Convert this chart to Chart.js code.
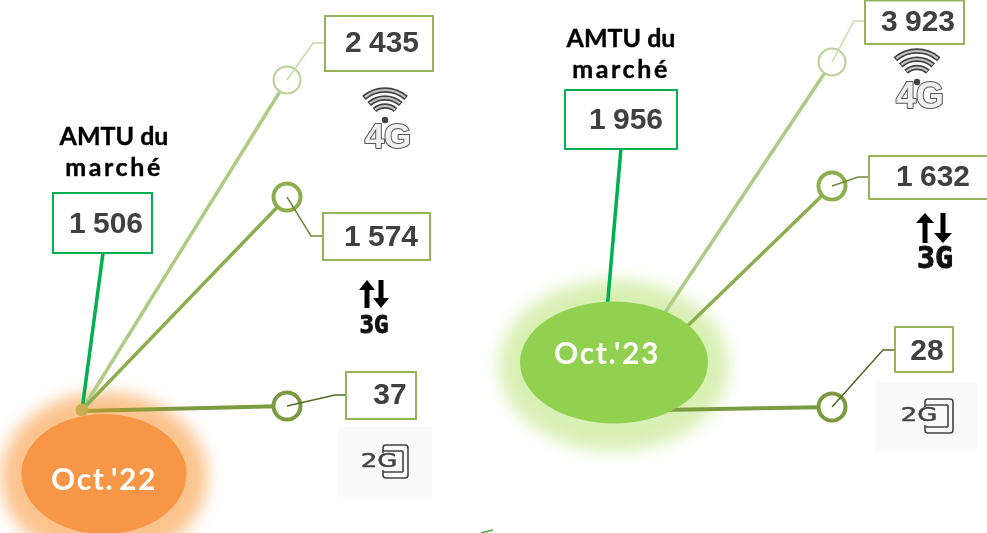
<!DOCTYPE html>
<html lang="fr"><head><meta charset="utf-8">
<style>html,body{margin:0;padding:0;background:#fff}canvas{display:block}</style>
<script src="https://cdn.jsdelivr.net/npm/chart.js@4"></script></head>
<body><canvas id="c" width="987" height="533"></canvas>
<script>
const periods = ["Oct.'22", "Oct.'23"];
const values4G = [2435, 3923];
const values3G = [1574, 1632];
const values2G = [37, 28];
const marketAMTU = [1506, 1956];
const marketLabel = ["AMTU du", "marché"];

const fmt = v => String(v).replace(/\B(?=(\d{3})+$)/g, ' ');
const C = {four:'#AFCB86', fourLeader:'#C8DCA8', three:'#8CAE4E', threeLeader:'#6F8C38', two:'#7C9A40', twoLeader:'#4F6B22', box:'#95B35C', green:'#00B050', text:'#404040'};

// Diagram layout (no value axis exists in the source: anchors are in the hidden 987x533 plane)
const panels = [
 {ell:[104,474,82.5,60], fill:'#F79646', glow:'#FBC48E', labelAt:[104,480], gold:true,
  spokeAMTU:[[103,253],[82,410]], spoke4:[[82,410],[287,80]], spoke3:[[82,410],[287,197]], spoke2:[[82,411],[287,406]],
  lead4:[[287,80],[313,43],[325,43]], lead3:[[287,197],[311,236],[323,236]], lead2:[[287,406],[335,395],[346,395]],
  box4:[325,16,433,71,382,44], box3:[323,213,430,260,381,238], box2:[346,372,416,419,390,396], boxA:[53,193,152,253,106,225],
  title:[114,137,168], wifi:[385,122,1,3,16], arrows:[367,381,280,308,374,327,24,8], two:[338,427,432,497,379,462,383,445,408,478]},
 {ell:[614,362.5,94,61], fill:'#92D050', glow:'#D9F0B4', labelAt:[607,354], gold:false,
  spokeAMTU:[[621,148],[607,310]], spoke4:[[640,350],[832,62]], spoke3:[[640,372],[832,186]], spoke2:[[660,410],[832,407]],
  lead4:[[832,62],[854,21],[865,21]], lead3:[[832,186],[858,177],[869,177]], lead2:[[832,407],[883,350],[895,350]],
  box4:[865,0.5,964,44,918,23], box3:[869,156,992,199,933,178], box2:[895,327,953,372,927,352], boxA:[565,90,677,149,626,121],
  title:[621,39,70], wifi:[917,84,1.03,3,14], arrows:[925,943,213,243,935,260,30,9], two:[875,382,977,452,919,416,925,399,953,433]}
];
const pts = a => a.map(p => ({x:p[0], y:p[1]}));
const line = (a,color,w,order) => ({type:'scatter',showLine:true,data:pts(a),borderColor:color,borderWidth:w,pointRadius:0,order,fill:false,tension:0,borderCapStyle:'butt'});
const ring = (p,color,w,order) => ({type:'scatter',showLine:false,data:pts([p]),pointRadius:13.5,pointBorderWidth:w,pointBorderColor:color,pointBackgroundColor:'#fff',order});
const goldFade = a => ctx => {
  const ch = ctx.chart;
  if (!ch.scales || !ch.scales.x) return C.two;
  const x0 = ch.scales.x.getPixelForValue(a[0][0]), x1 = ch.scales.x.getPixelForValue(a[1][0]);
  if (!isFinite(x0) || !isFinite(x1)) return C.two;
  const g = ch.ctx.createLinearGradient(x0,0,x1,0);
  g.addColorStop(0,'#B59A32'); g.addColorStop(0.45,'#7F9A40'); g.addColorStop(1,C.two);
  return g;
};

const datasets = [];
panels.forEach(P => {
  datasets.push(line(P.spokeAMTU,C.green,3.5,30), line(P.spoke4,C.four,3.5,30), line(P.spoke3,C.three,3.5,29),
    line(P.spoke2,P.gold?goldFade(P.spoke2):C.two,4,29),
    ring(P.spoke4[1],'#B8D296',2,20), ring(P.spoke3[1],C.three,4,20), ring(P.spoke2[1],C.two,4,20),
    line(P.lead4,C.fourLeader,1.5,10), line(P.lead3,C.threeLeader,1.5,10), line(P.lead2,C.twoLeader,1.5,10));
});
datasets.push(line([[481,533],[493,530]],'#4EA72E',1.5,10));
datasets.push({type:'scatter',showLine:false,data:pts([[82,410]]),pointRadius:6.5,pointBorderWidth:0,pointBackgroundColor:'#C9AE52',order:25});

const diagram = {
  id:'diagram',
  beforeDatasetsDraw(ch){
    const c=ch.ctx, X=v=>ch.scales.x.getPixelForValue(v), Y=v=>ch.scales.y.getPixelForValue(v);
    panels.forEach(P=>{
      const [x,y,rx,ry]=P.ell;
      c.save(); c.filter='blur(8px)'; c.fillStyle=P.glow;
      c.beginPath(); c.ellipse(X(x),Y(y+3),rx+21,ry+25,0,0,7); c.fill(); c.restore();
    });
  },
  afterDatasetsDraw(ch){
    const c=ch.ctx, X=v=>ch.scales.x.getPixelForValue(v), Y=v=>ch.scales.y.getPixelForValue(v);
    c.save();
    c.textAlign='center'; c.textBaseline='middle';
    panels.forEach((P,i)=>{
      const [x,y,rx,ry]=P.ell;
      c.fillStyle=P.fill; c.beginPath(); c.ellipse(X(x),Y(y),rx,ry,0,0,7); c.fill();
      c.fillStyle='#fff'; c.font='bold 30px Lato, sans-serif'; c.letterSpacing='1.6px';
      c.fillText(periods[i],X(P.labelAt[0]),Y(P.labelAt[1]));

      c.fillStyle='#000'; c.strokeStyle='#000'; c.lineWidth=0.4; c.font='bold 25px Lato, sans-serif'; c.letterSpacing='0px';
      c.fillText(marketLabel[0],X(P.title[0]),Y(P.title[1]));
      c.strokeText(marketLabel[0],X(P.title[0]),Y(P.title[1]));
      c.letterSpacing='2.6px';
      c.fillText(marketLabel[1],X(P.title[0]),Y(P.title[2]));
      c.strokeText(marketLabel[1],X(P.title[0]),Y(P.title[2]));
      c.letterSpacing='0px';

      const box=(b,col,val)=>{
        c.fillStyle='#fff'; c.fillRect(X(b[0]),Y(b[1]),b[2]-b[0],b[3]-b[1]);
        c.strokeStyle=col; c.lineWidth=2; c.strokeRect(X(b[0]),Y(b[1]),b[2]-b[0],b[3]-b[1]);
        c.fillStyle=C.text; c.font='bold 30px "Liberation Sans", sans-serif'; c.wordSpacing='-1px';
        c.fillText(fmt(val),X(b[4]),Y(b[5]));
        c.wordSpacing='0px';
      };
      box(P.box4,C.box,values4G[i]); box(P.box3,C.box,values3G[i]); box(P.box2,C.box,values2G[i]); box(P.boxA,C.green,marketAMTU[i]);

      // 4G icon
      const [wx,wy,s,dx,dy]=P.wifi; const ox=X(wx), oy=Y(wy);
      [32,24,16].forEach(r=>{
        c.lineCap='butt'; c.strokeStyle='#444'; c.lineWidth=5.5;
        c.beginPath(); c.arc(ox,oy,r*s,-Math.PI/2-0.72,-Math.PI/2+0.72); c.stroke();
        c.strokeStyle='#c8c8c8'; c.lineWidth=2;
        c.beginPath(); c.arc(ox,oy,r*s,-Math.PI/2-0.68,-Math.PI/2+0.68); c.stroke();
      });
      c.fillStyle='#444'; c.beginPath(); c.arc(ox,oy-2,3.2,0,7); c.fill();
      c.font=`bold ${Math.round(35*s)}px "Liberation Sans", sans-serif`;
      c.strokeStyle='#555'; c.lineWidth=2; c.lineJoin='round';
      c.strokeText('4G',ox+dx,oy+dy); c.fillStyle='#efefef'; c.fillText('4G',ox+dx,oy+dy);

      // 3G icon
      const [ax1,ax2,ay1,ay2,tx,ty,fs,hw]=P.arrows;
      c.strokeStyle='#000'; c.fillStyle='#000'; c.lineWidth=5;
      c.beginPath(); c.moveTo(X(ax1),Y(ay2)); c.lineTo(X(ax1),Y(ay1)+6); c.moveTo(X(ax2),Y(ay1)); c.lineTo(X(ax2),Y(ay2)-6); c.stroke();
      c.beginPath(); c.moveTo(X(ax1)-hw,Y(ay1)+10); c.lineTo(X(ax1),Y(ay1)); c.lineTo(X(ax1)+hw,Y(ay1)+10); c.closePath(); c.fill();
      c.beginPath(); c.moveTo(X(ax2)-hw,Y(ay2)-10); c.lineTo(X(ax2),Y(ay2)); c.lineTo(X(ax2)+hw,Y(ay2)-10); c.closePath(); c.fill();
      c.save(); c.filter='blur(0.5px)'; c.fillStyle='#111'; c.strokeStyle='#111'; c.lineWidth=1;
      c.font=`bold ${fs}px "DejaVu Sans Mono", monospace`;
      c.fillText('3G',X(tx),Y(ty)); c.strokeText('3G',X(tx),Y(ty)); c.restore();

      // 2G icon
      const t=P.two;
      c.fillStyle='#FAFAFA'; c.fillRect(X(t[0]),Y(t[1]),t[2]-t[0],t[3]-t[1]);
      c.strokeStyle='#444'; c.lineWidth=1.6;
      c.beginPath(); c.roundRect(X(t[6]),Y(t[7]),t[8]-t[6],t[9]-t[7],3); c.stroke();
      c.beginPath(); c.moveTo(X(t[8])-5,Y(t[7])+6); c.lineTo(X(t[8])-5,Y(t[9])-6);
      c.moveTo(X(t[6]),Y(t[7])+6); c.lineTo(X(t[8])-5,Y(t[7])+6);
      c.moveTo(X(t[6]),Y(t[9])-6); c.lineTo(X(t[8])-5,Y(t[9])-6); c.stroke();
      c.fillStyle='#FAFAFA'; c.fillRect(X(t[6])-2,Y(t[7])+8,8,t[9]-t[7]-16);
      c.fillStyle='#444'; c.strokeStyle='#444'; c.lineWidth=0.5; c.font='20px "DejaVu Sans", sans-serif';
      c.save(); c.translate(X(t[4]),Y(t[5])); c.scale(1.3,1); c.fillText('2G',0,0); c.strokeText('2G',0,0); c.restore();
    });
    c.restore();
  }
};

new Chart(document.getElementById('c'),{
  type:'scatter',
  data:{datasets},
  plugins:[diagram],
  options:{
    responsive:false, animation:false, layout:{padding:0,autoPadding:false},
    plugins:{legend:{display:false},tooltip:{enabled:false}},
    scales:{x:{type:'linear',min:0,max:987,display:false},y:{type:'linear',min:0,max:533,reverse:true,display:false}}
  }
});
</script></body></html>
